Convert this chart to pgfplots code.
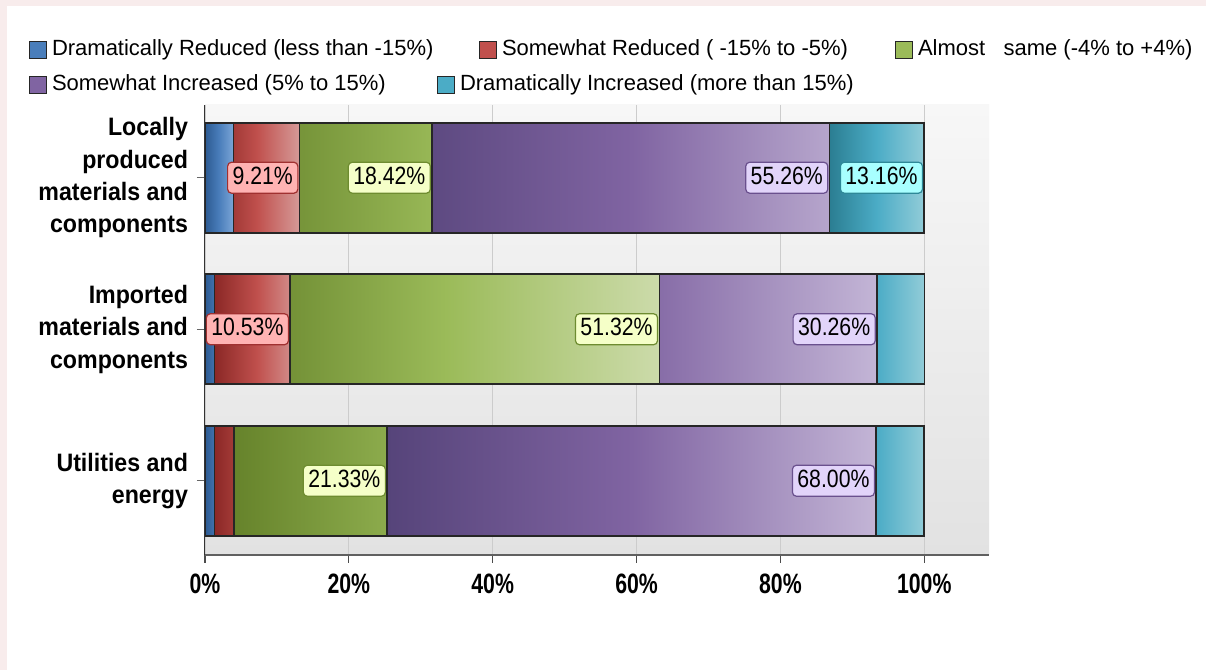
\documentclass[border=0pt]{standalone}
\usepackage{fontspec}
\setmainfont{Liberation Sans}
\newfontfamily\tickfont[FakeStretch=0.76]{Liberation Sans}
\newfontfamily\catfont[FakeStretch=0.92]{Liberation Sans}
\newfontfamily\valfont[FakeStretch=0.85]{Liberation Sans}
\usepackage{pgfplots}
\pgfplotsset{compat=1.18}

\definecolor{pinkbg}{HTML}{F8ECEC}
\definecolor{bgtop}{HTML}{F7F7F7}
\definecolor{bgbot}{HTML}{E2E2E2}
\definecolor{c1}{HTML}{4A7EBB}\definecolor{c1d}{HTML}{2C5A92}\definecolor{c1l}{HTML}{7BA5D6}
\definecolor{c2}{HTML}{C0504D}\definecolor{c2d}{HTML}{8B2826}\definecolor{c2l}{HTML}{D69A98}
\definecolor{c3}{HTML}{9BBB59}\definecolor{c3d}{HTML}{66832B}\definecolor{c3l}{HTML}{CCDBAA}
\definecolor{c4}{HTML}{8064A2}\definecolor{c4d}{HTML}{56447A}\definecolor{c4l}{HTML}{C3B5D6}
\definecolor{c5}{HTML}{4BACC6}\definecolor{c5d}{HTML}{2B7E92}\definecolor{c5l}{HTML}{92CCD8}
\definecolor{l2f}{HTML}{FFB3B3}\definecolor{l2d}{HTML}{A03030}
\definecolor{l3f}{HTML}{F5FFC8}\definecolor{l3d}{HTML}{6E8C30}
\definecolor{l4f}{HTML}{E2D4FA}\definecolor{l4d}{HTML}{6A508E}
\definecolor{l5f}{HTML}{A8FFFF}\definecolor{l5d}{HTML}{2E8898}

\newcommand\legitem[4]{%
  \filldraw[fill=#3, draw=black!85, line width=0.6pt] (#1-4.25,#2-4.25) rectangle (#1+4.25,#2+4.25);
  \node[anchor=west, inner sep=0pt, font=\fontsize{11}{13}\selectfont] at (#1+6.8,#2) {#4};}

\begin{document}
\begin{tikzpicture}[x=1pt,y=1pt]
\fill[pinkbg] (0,0) rectangle (603,335);
\fill[white] (3.5,0) rectangle (603,332);
\path[use as bounding box] (0,0) rectangle (603,335);

\legitem{19}{310}{c1}{Dramatically Reduced (less than -15\%)}
\legitem{244}{310}{c2}{Somewhat Reduced ( -15\% to -5\%)}
\legitem{452}{310}{c3}{Almost\ \ \ same (-4\% to +4\%)}
\legitem{19}{292.5}{c4}{Somewhat Increased (5\% to 15\%)}
\legitem{223}{292.5}{c5}{Dramatically Increased (more than 15\%)}

\begin{axis}[
  at={(102.5pt,57.5pt)}, anchor=south west,
  scale only axis, width=392pt, height=225pt,
  xmin=0, xmax=109, ymin=-0.49, ymax=2.48,
  xbar stacked, bar width=55pt,
  axis lines*=left,
  x axis line style={-, draw=gray!75!black, line width=1pt},
  y axis line style={-, draw=black!80, line width=0.5pt},
  axis background/.style={top color=bgtop, bottom color=bgbot},
  xmajorgrids, major grid style={draw=gray!40, line width=0.6pt},
  tick align=outside, major tick length=4pt,
  xtick style={draw=gray!60!black, line width=0.6pt},
  ytick style={draw=black!60, line width=0.5pt},
  xtick={0,20,40,60,80,100},
  xticklabel={\pgfmathprintnumber{\tick}\%},
  /pgf/number format/assume math mode=true,
  xticklabel style={font=\tickfont\bfseries\fontsize{14}{16}\selectfont, yshift=-2pt},
  ytick={0,1,2},
  yticklabels={{Utilities and\\energy},{Imported\\materials and\\components},{Locally\\produced\\materials and\\components}},
  yticklabel style={font=\catfont\bfseries\fontsize{12.6}{16.2}\selectfont, align=right, xshift=-1pt},
  visualization depends on={rawx \as \rawx},
  nodes near coords={\ifdim\nncop pt>0.5pt\pgfmathprintnumber[fixed,fixed zerofill,precision=2]{\nncx}\%\fi},
  every node near coord/.append style={font=\valfont\fontsize{12.5}{14}\selectfont,
     anchor=east, rounded corners=2pt, inner xsep=2.5pt, inner ysep=2pt,
     text height=9pt, text depth=2.5pt, line width=0.6pt,
     /utils/exec={\pgfmathfloatparsenumber{\rawx}\pgfmathfloattofixed{\pgfmathresult}\global\let\nncx\pgfmathresult\pgfmathparse{\nncx<8?0:1}\global\let\nncop\pgfmathresult},
     xshift=\nncx*1.798165pt-0.6pt,
     opacity=\nncop},
]
\addplot[draw=black!85, line width=0.8pt, left color=c1d, right color=c1l, middle color=c1] coordinates {(3.95,2) (1.32,1) (1.33,0)};
\addplot[draw=black!85, line width=0.8pt, left color=c2d, right color=c2l, middle color=c2,
  every node near coord/.append style={fill=l2f, draw=l2d}] coordinates {(9.21,2) (10.53,1) (2.67,0)};
\addplot[draw=black!85, line width=0.8pt, left color=c3d, right color=c3l, middle color=c3,
  every node near coord/.append style={fill=l3f, draw=l3d}] coordinates {(18.42,2) (51.32,1) (21.33,0)};
\addplot[draw=black!85, line width=0.8pt, left color=c4d, right color=c4l, middle color=c4,
  every node near coord/.append style={fill=l4f, draw=l4d}] coordinates {(55.26,2) (30.26,1) (68.00,0)};
\addplot[draw=black!85, line width=0.8pt, left color=c5d, right color=c5l, middle color=c5,
  every node near coord/.append style={fill=l5f, draw=l5d}] coordinates {(13.16,2) (6.58,1) (6.67,0)};
\end{axis}
\end{tikzpicture}
\end{document}
